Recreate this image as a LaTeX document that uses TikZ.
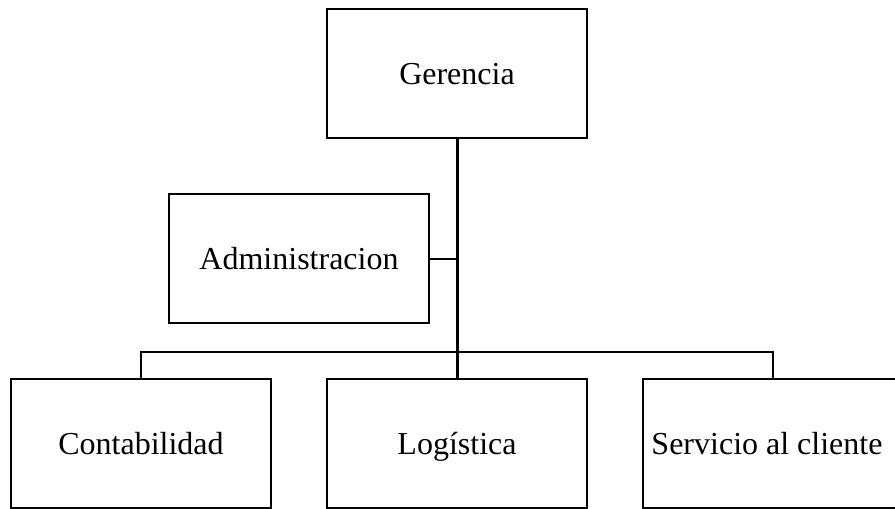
\documentclass[tikz,border=0pt]{standalone}
\usepackage{fontspec}
\setmainfont{Liberation Serif}
\begin{document}
\begin{tikzpicture}[x=1pt,y=-1pt,
  box/.style={draw=black, line width=2pt, minimum width=260pt, minimum height=129pt, inner sep=0pt, text height=25pt, text depth=4pt, font=\fontsize{32}{38}\selectfont},
  link/.style={draw=black, line width=2pt},
  trunk/.style={draw=black, line width=3pt}]
\clip (0,0) rectangle (895,509);
\useasboundingbox (0,0) rectangle (895,509);
\node[box] (ger) at (457,73.5) {Gerencia};
\node[box] (adm) at (299,258.5) {Administracion};
\node[box] (con) at (141,443.5) {Contabilidad};
\node[box] (log) at (457,443.5) {Logística};
\node[box] (ser) at (773,443.5) {\hspace*{-12pt}Servicio al cliente};
\coordinate (j) at (457,352);
\draw[trunk] (ger.south) -- (j) -- (log.north);
\draw[link] (adm.east) -- (adm.east -| ger.south);
\draw[link] (con.north) -- (con.north |- j) -- (ser.north |- j) -- (ser.north);
\end{tikzpicture}
\end{document}
